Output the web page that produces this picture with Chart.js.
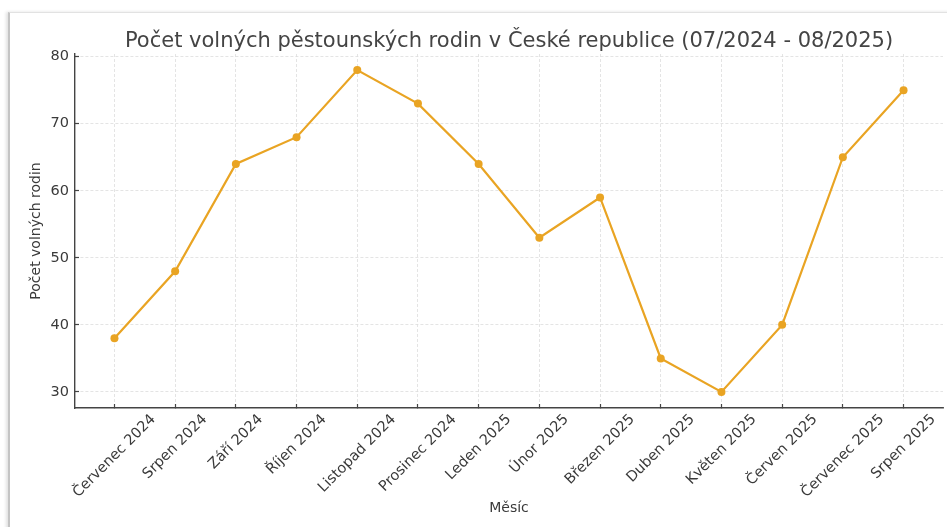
<!DOCTYPE html>
<html>
<head>
<meta charset="utf-8">
<script src="https://cdn.jsdelivr.net/npm/chart.js@4.4.1/dist/chart.umd.min.js"></script>
<style>
  html, body { margin: 0; padding: 0; background: #ffffff; }
  #wrap { position: relative; width: 947px; height: 527px; overflow: hidden; background: #ffffff; }
  #frame { position: absolute; left: 8px; top: 12px; width: 980px; height: 560px;
           border-left: 2px solid #c4c4c4; border-top: 1px solid #e2e2e2;
           box-shadow: -2px 0 3px rgba(0,0,0,0.12); background: #ffffff; }
  canvas { position: absolute; left: 0; top: 0; }
</style>
</head>
<body>
<div id="wrap">
  <div id="frame"></div>
  <canvas id="c" width="947" height="527"></canvas>
</div>
<script>
const categories = [
  'Červenec 2024', 'Srpen 2024', 'Září 2024', 'Říjen 2024', 'Listopad 2024',
  'Prosinec 2024', 'Leden 2025', 'Únor 2025', 'Březen 2025', 'Duben 2025',
  'Květen 2025', 'Červen 2025', 'Červenec 2025', 'Srpen 2025'
];
const values = [38, 48, 64, 68, 78, 73, 64, 53, 59, 35, 30, 40, 65, 75];
const yTicks = [30, 40, 50, 60, 70, 80];
const chartTitle = 'Počet volných pěstounských rodin v České republice (07/2024 - 08/2025)';
const xTitle = 'Měsíc';
const yTitle = 'Počet volných rodin';

const FONT = 'DejaVu Sans';
const TEXT = '#3a3a3a';

// Centre each rotated x label horizontally under its tick (matplotlib-like)
const centerRotatedLabels = {
  id: 'centerRotatedLabels',
  beforeDraw(chart) {
    const scale = chart.scales.x;
    const items = scale.getLabelItems(chart.chartArea);
    if (items._shifted) return;
    items._shifted = true;
    const ctx = chart.ctx;
    ctx.save();
    items.forEach(it => {
      ctx.font = it.font.string;
      const w = ctx.measureText(String(it.label)).width;
      it.options.translation[0] += w * Math.SQRT1_2 / 2;
    });
    ctx.restore();
  }
};

new Chart(document.getElementById('c'), {
  type: 'line',
  data: {
    datasets: [{
      data: values.map((v, i) => ({ x: i, y: v })),
      borderColor: '#e9a423',
      backgroundColor: '#e9a423',
      borderWidth: 2.2,
      pointRadius: 4,
      pointBorderWidth: 0,
      pointBackgroundColor: '#e9a423',
      tension: 0,
      fill: false
    }]
  },
  options: {
    responsive: false,
    animation: false,
    devicePixelRatio: 1,
    layout: { padding: { left: 20, right: 4, top: 0, bottom: 0 } },
    plugins: {
      legend: { display: false },
      tooltip: { enabled: false },
      title: {
        display: true,
        text: chartTitle,
        fullSize: false,
        color: '#444444',
        font: { family: FONT, size: 21, weight: 'normal', lineHeight: 1.2 },
        padding: { top: 28.8, bottom: 0 }
      }
    },
    scales: {
      x: {
        type: 'linear',
        min: -0.65,
        max: 13.65,
        afterBuildTicks: s => { s.ticks = categories.map((c, i) => ({ value: i })); },
        afterFit: s => { s.height = 119; },
        ticks: {
          autoSkip: false,
          minRotation: 45,
          maxRotation: 45,
          padding: 7,
          color: TEXT,
          font: { family: FONT, size: 14.5 },
          callback: v => categories[v]
        },
        grid: { color: '#dddddd', lineWidth: 0.8, tickLength: -4, tickColor: '#444444', tickWidth: 1.2 },
        border: { display: true, color: '#444444', width: 1.4, dash: [3, 2] },
        title: {
          display: true, text: xTitle, color: TEXT,
          font: { family: FONT, size: 14, lineHeight: 1.2 },
          padding: { top: 0, bottom: 10.6 }
        }
      },
      y: {
        type: 'linear',
        min: 27.6,
        max: 80.4,
        afterBuildTicks: s => { s.ticks = yTicks.map(v => ({ value: v })); },
        afterFit: s => { s.width = 55; },
        ticks: {
          padding: 10,
          color: TEXT,
          font: { family: FONT, size: 14.5 }
        },
        grid: { color: '#dddddd', lineWidth: 0.8, tickLength: -4, tickColor: '#444444', tickWidth: 1.2 },
        border: { display: true, color: '#444444', width: 1.4, dash: [3, 2] },
        title: {
          display: true, text: yTitle, color: TEXT,
          font: { family: FONT, size: 14, lineHeight: 1.2 },
          padding: { top: 7.6, bottom: 0 }
        }
      }
    }
  },
  plugins: [centerRotatedLabels]
});
</script>
</body>
</html>
